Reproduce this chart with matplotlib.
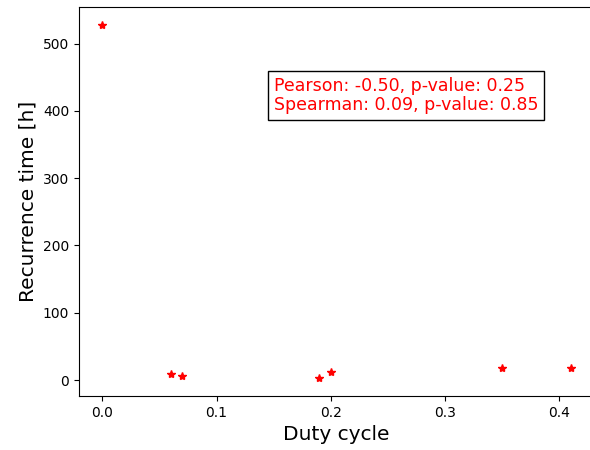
import numpy as np
import matplotlib.pyplot as plt

# values
duty_cycle = [0.0, 0.06, 0.07, 0.19, 0.20, 0.35, 0.41]
recurrence_time = [528, 9, 6, 2.5, 12, 18, 18]
stats_text = "Pearson: -0.50, p-value: 0.25\nSpearman: 0.09, p-value: 0.85"


def plot_recurrence(x, y):
    fig = plt.figure(figsize=(5.9, 4.5), dpi=100)
    # the reference is cropped a few pixels inside the right spine
    ax = fig.add_axes([79 / 590, 1 - 396 / 450, 515 / 590, 389 / 450])
    ax.plot(x, y, 'r*', linestyle='none')
    ax.set_xlabel('Duty cycle', fontsize=14.5)
    ax.set_ylabel('Recurrence time [h]', fontsize=14.5)
    ax.text(0.15, 401, stats_text, color='red', fontsize=12.5, linespacing=1.1,
            bbox=dict(facecolor='white', edgecolor='black'))
    return fig


def main():
    fig = plot_recurrence(duty_cycle, recurrence_time)
    fig.savefig('out.png', dpi=100)


if __name__ == "__main__":
    main()
